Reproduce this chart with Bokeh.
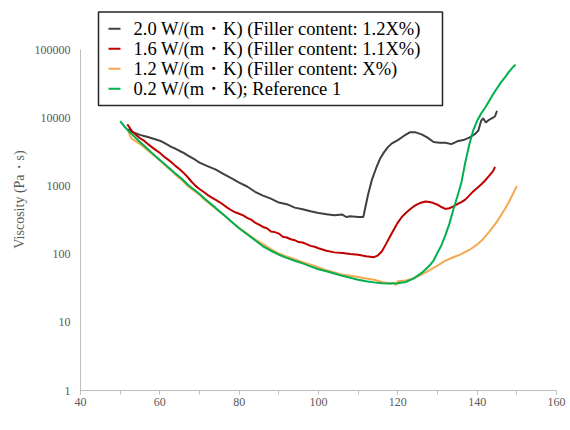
from bokeh.plotting import figure
from bokeh.models import SingleIntervalTicker, FixedTicker, NumeralTickFormatter, Label
from bokeh.embed import file_html
from bokeh.resources import INLINE

# ---- data ----
t_20 = [52, 53, 54, 55, 56, 57, 58, 59, 60, 61, 62, 63, 64, 65, 66, 67, 68, 69, 70,
        72, 74, 76, 78, 80, 82, 84, 86, 88, 90, 92, 94, 96, 98, 100, 102, 104, 106, 107,
        108, 110, 111.3, 112.5, 113.5, 114.5, 115.5, 116.5, 117.5, 118.5, 120, 121.5,
        123, 124.5, 126, 127.5, 129, 130.5, 132, 133.5, 135, 136.5, 138, 139.5, 140.3,
        141.0, 141.5, 142.2, 143, 144, 144.5, 145]
v_20 = [6800, 6200, 5900, 5600, 5400, 5200, 5000, 4800, 4600, 4300, 4000, 3700, 3500,
        3250, 3050, 2800, 2600, 2400, 2200, 1950, 1750, 1500, 1300, 1120, 980, 820, 720,
        650, 570, 540, 480, 455, 425, 400, 385, 370, 380, 350, 360, 350, 350, 750, 1250,
        1800, 2500, 3100, 3700, 4200, 4700, 5400, 6100, 6100, 5700, 5100, 4400, 4300,
        4300, 4100, 4500, 4700, 5100, 5800, 6500, 9000, 9800, 8500, 9300, 10000, 10500,
        12600]

t_16 = [51.8, 52.5, 53, 54, 55, 56, 57, 58, 59, 60, 61, 62, 63, 64, 65, 66, 67, 68, 69,
        70, 71, 72, 73, 74, 75, 76, 77, 78, 79, 80, 81, 82, 83, 84, 85, 86, 87, 88, 89,
        90, 91, 92, 93, 94, 95, 96, 97, 98, 99, 100, 102, 104, 106, 108, 110, 112, 114,
        115, 116, 117, 118, 119, 120, 121, 122, 123, 124, 125, 126, 127, 128, 129, 130,
        131, 132, 133, 134, 135, 136, 137, 138, 139, 140, 141, 142, 143, 144, 144.5]
v_16 = [8000, 7000, 6300, 5600, 5000, 4600, 4100, 3700, 3350, 3050, 2700, 2450, 2200,
        1950, 1750, 1550, 1350, 1150, 1000, 900, 820, 740, 680, 630, 580, 530, 480, 440,
        410, 390, 370, 340, 320, 290, 270, 250, 240, 215, 210, 200, 180, 175, 165, 160,
        150, 148, 140, 132, 128, 122, 112, 106, 104, 100, 98, 93, 90, 96, 110, 140, 180,
        230, 290, 350, 400, 450, 500, 540, 570, 590, 580, 560, 530, 490, 460, 470, 500,
        540, 580, 630, 720, 830, 930, 1050, 1200, 1400, 1650, 1900]

t_12 = [52, 52.5, 53, 54, 55, 56, 57, 58, 59, 60, 61, 62, 63, 64, 65, 66, 67, 68, 69, 70,
        71, 72, 73, 74, 75, 76, 77, 78, 79, 80, 82, 84, 86, 88, 90, 92, 94, 96, 98, 100,
        102, 104, 106, 108, 110, 112, 114, 116, 118, 119, 119.5, 120, 122, 124, 126, 128,
        130, 132, 134, 136, 138, 140, 141, 142, 143, 144, 145, 146, 147, 148, 149, 150]
v_12 = [6500, 5400, 4900, 4500, 4100, 3700, 3300, 2950, 2650, 2350, 2100, 1850, 1650,
        1450, 1300, 1150, 1000, 900, 820, 740, 650, 580, 520, 470, 420, 380, 340, 300,
        270, 240, 200, 165, 140, 118, 102, 92, 84, 76, 70, 64, 58, 54, 50, 48, 46, 44, 42,
        39, 37, 38, 35, 40, 41, 44, 50, 58, 68, 80, 90, 100, 115, 138, 155, 180, 210, 250,
        300, 370, 460, 580, 760, 1000]

t_02 = [50, 51, 52, 53, 54, 55, 56, 57, 58, 59, 60, 61, 62, 63, 64, 65, 66, 67, 68, 69,
        70, 72, 74, 76, 78, 80, 82, 84, 86, 88, 90, 92, 94, 96, 98, 100, 102, 104, 106,
        108, 110, 112, 114, 116, 118, 120, 122, 124, 126, 127, 128, 129, 130, 131, 132,
        133, 134, 135, 136, 137, 138, 139, 140, 141, 142, 143, 144, 145, 146, 147, 148,
        149, 149.7]
v_02 = [8900, 7500, 6500, 5700, 5000, 4400, 3900, 3450, 3050, 2700, 2400, 2150, 1900,
        1700, 1500, 1350, 1200, 1050, 940, 850, 760, 600, 480, 380, 300, 240, 195, 160,
        130, 112, 98, 88, 80, 73, 66, 60, 56, 52, 48, 45, 42, 40, 38.5, 37.5, 37, 37.5,
        39, 44, 53, 60, 68, 80, 105, 135, 190, 280, 450, 700, 1100, 2200, 4000, 6500,
        9000, 11500, 14000, 17500, 22000, 27000, 33000, 39000, 47000, 55000, 60000]

labels = ["2.0 W/(m・K) (Filler content: 1.2X%)",
          "1.6 W/(m・K) (Filler content: 1.1X%)",
          "1.2 W/(m・K) (Filler content: X%)",
          "0.2 W/(m・K); Reference 1"]
colors = ["#404040", "#c00000", "#f4a950", "#00b050"]
y_ticks = [1, 10, 100, 1000, 10000, 100000]
x_min, x_max = 40, 160
y_axis_min, y_axis_max = 1, 100000

FONT = "Liberation Serif"
GRAY = "#595959"
AXIS = "#bfbfbf"

# ---- layout (pixels) ----
W, H = 570, 430
FRAME_LEFT, FRAME_RIGHT = 80, 556
FRAME_TOP, AXIS_TOP, FRAME_BOTTOM = 8, 49, 390
decade_px = (FRAME_BOTTOM - AXIS_TOP) / 5.0
y_top = 10 ** (5 + (AXIS_TOP - FRAME_TOP) / decade_px)

def px_x(px):
    return x_min + (px - FRAME_LEFT) * (x_max - x_min) / (FRAME_RIGHT - FRAME_LEFT)

def px_y(py):
    return 10 ** ((FRAME_BOTTOM - py) / decade_px)

p = figure(width=W, height=H, y_axis_type="log",
           x_range=(x_min, x_max), y_range=(y_axis_min, y_top),
           output_backend="svg", toolbar_location=None,
           min_border_left=FRAME_LEFT, min_border_right=W - FRAME_RIGHT,
           min_border_top=FRAME_TOP, min_border_bottom=H - FRAME_BOTTOM)
p.outline_line_color = None
p.xgrid.visible = False
p.ygrid.visible = False
p.background_fill_color = "white"
p.border_fill_color = "white"

series = [(t_20, v_20), (t_16, v_16), (t_12, v_12), (t_02, v_02)]
for (t, v), c in zip(series, colors):
    p.line(t, v, line_color=c, line_width=2)

# x axis
xa = p.xaxis[0]
xa.ticker = SingleIntervalTicker(interval=20, num_minor_ticks=2)
xa.axis_line_color = AXIS
xa.major_tick_line_color = AXIS
xa.minor_tick_line_color = AXIS
xa.major_tick_in = 0
xa.major_tick_out = 4
xa.minor_tick_in = 0
xa.minor_tick_out = 4
xa.major_label_standoff = 3
xa.major_label_text_font = FONT
xa.major_label_text_font_size = "12px"
xa.major_label_text_color = GRAY

# y axis
ya = p.yaxis[0]
ya.ticker = FixedTicker(ticks=y_ticks)
ya.bounds = (y_axis_min, y_axis_max)
ya.formatter = NumeralTickFormatter(format="0")
ya.axis_line_color = AXIS
ya.major_tick_line_color = None
ya.minor_tick_line_color = None
ya.major_tick_out = 0
ya.major_tick_in = 0
ya.major_label_standoff = 10
ya.major_label_text_font = FONT
ya.major_label_text_font_size = "12px"
ya.major_label_text_color = GRAY
ya.axis_label = "Viscosity (Pa・s)"
ya.axis_label_text_font = FONT
ya.axis_label_text_font_size = "14px"
ya.axis_label_text_font_style = "normal"
ya.axis_label_text_color = GRAY
ya.axis_label_standoff = 5

# x axis title placed below the tick labels
xt = Label(x=(x_min + x_max) / 2, y=y_axis_min, text="Temperature (℃)",
           x_units="data", y_units="data",
           y_offset=-32, text_align="center", text_baseline="middle",
           text_font=FONT, text_font_size="14px", text_color=GRAY)
p.add_layout(xt)

# ---- legend box drawn by hand (rows 20 px apart) ----
LG_LEFT, LG_RIGHT, LG_TOP, LG_BOTTOM = 98, 442, 11.5, 105
ROW0, ROW_STEP = 28.3, 20
p.quad(left=[px_x(LG_LEFT)], right=[px_x(LG_RIGHT)],
       top=[px_y(LG_TOP)], bottom=[px_y(LG_BOTTOM)],
       fill_color="white", line_color="#262626", line_width=1.5)
for i, (lab, c) in enumerate(zip(labels, colors)):
    yc = px_y(ROW0 + i * ROW_STEP)
    p.line([px_x(108), px_x(120)], [yc, yc], line_color=c, line_width=2)
    p.add_layout(Label(x=px_x(133), y=yc, text=lab, x_units="data", y_units="data",
                       text_align="left", text_baseline="middle",
                       text_font=FONT, text_font_size="18.5px", text_color="black"))

open("out.html", "w").write(file_html(p, INLINE))
